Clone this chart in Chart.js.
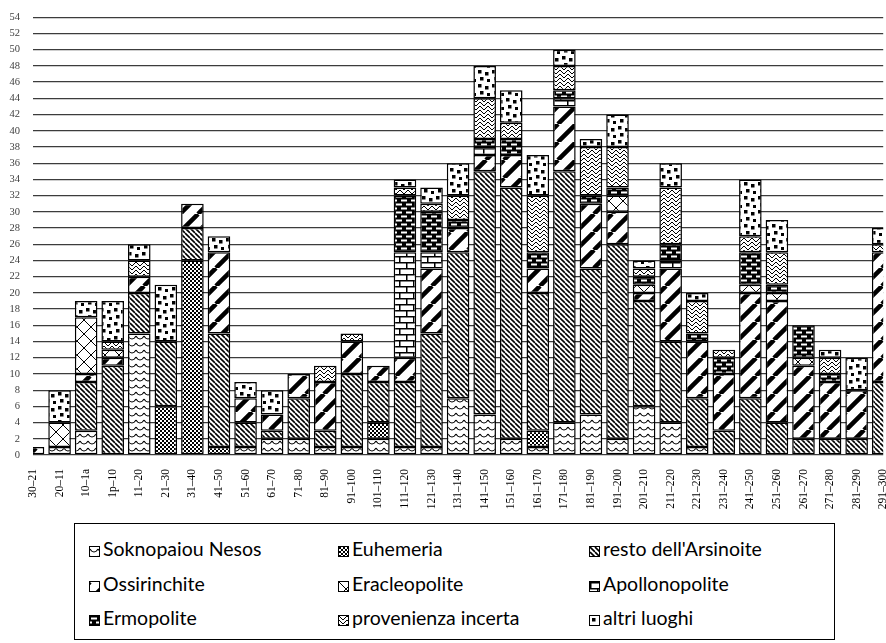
<!DOCTYPE html>
<html>
<head>
<meta charset="utf-8">
<script src="https://cdn.jsdelivr.net/npm/chart.js@4.4.1/dist/chart.umd.min.js"></script>
<style>
html, body { margin:0; padding:0; background:#fff; width:886px; height:643px; overflow:hidden; }
#wrap { position:absolute; left:0; top:-2px; width:903px; height:517px; }
#legend { position:absolute; left:74px; top:523px; width:759px; height:115px; border:1.5px solid #000; font-family:Lato, sans-serif; font-size:19.5px; color:#000; }
.item { position:absolute; height:26px; line-height:26px; white-space:nowrap; }
.sw { display:inline-block; width:9px; height:9px; border:1px solid #000; margin-right:3px; vertical-align:-1px; background-repeat:repeat; }
</style>
</head>
<body>
<div id="wrap"><canvas id="chart" width="903" height="517"></canvas></div>
<div id="legend"></div>
<script>
// periodi (categorie)
var periods = ['30–21', '20–11', '10–1a', '1p–10', '11–20', '21–30', '31–40', '41–50', '51–60', '61–70',
	'71–80', '81–90', '91–100', '101–110', '111–120', '121–130', '131–140', '141–150', '151–160', '161–170',
	'171–180', '181–190', '191–200', '201–210', '211–220', '221–230', '231–240', '241–250', '251–260', '261–270',
	'271–280', '281–290', '291–300'];

var seriesNames = ['Soknopaiou Nesos', 'Euhemeria', "resto dell'Arsinoite", 'Ossirinchite', 'Eracleopolite',
	'Apollonopolite', 'Ermopolite', 'provenienza incerta', 'altri luoghi'];

var soknopaiou = [0,1,3,0,15,0,0,0,1,2, 2,1,1,2,1,1,7,5,2,1, 4,5,2,6,4,1,0,0,0,0, 0,0,0];
var euhemeria  = [0,0,0,0,0,6,24,1,0,0, 0,0,0,2,0,0,0,0,0,2, 0,0,0,0,0,0,0,0,0,0, 0,0,0];
var arsinoite  = [0,0,6,11,5,8,4,14,3,1, 5,2,9,5,8,14,18,30,31,17, 31,18,24,13,10,6,3,7,4,2, 2,2,9];
var ossirinchite = [1,0,1,1,2,0,3,10,3,2, 3,6,4,2,3,8,3,2,4,3, 8,8,4,1,9,7,7,13,15,9, 7,6,16];
var eracleopolite = [0,3,7,1,0,0,0,0,0,0, 0,0,0,0,0,0,0,0,0,0, 0,0,2,1,0,0,0,1,1,1, 0,0,0];
var apollonopolite = [0,0,0,0,0,0,0,0,0,0, 0,0,0,0,13,2,0,1,0,0, 1,0,0,0,1,0,0,0,0,0, 0,0,0];
var ermopolite = [0,0,0,0,0,0,0,0,0,0, 0,0,0,0,7,5,1,1,2,2, 1,1,1,1,2,1,2,4,1,4, 1,0,0];
var incerta    = [0,0,0,1,2,0,0,0,0,0, 0,2,1,0,1,1,3,5,2,7, 3,6,5,1,7,4,1,2,4,0, 2,0,1];
var altri      = [0,4,2,5,2,7,0,2,2,3, 0,0,0,0,1,2,4,4,4,5, 2,1,4,1,3,1,0,7,4,0, 1,4,2];

var yTicks = { min: 0, max: 54, step: 2 };

var ctx = document.getElementById('chart').getContext('2d');

function tile(w, h, draw) {
	var c = document.createElement('canvas');
	c.width = w; c.height = h;
	var g = c.getContext('2d');
	g.fillStyle = '#fff';
	g.fillRect(0, 0, w, h);
	g.fillStyle = '#000';
	g.strokeStyle = '#000';
	draw(g, w, h);
	return c;
}

function diag(g, s, lw, slash) {
	g.lineWidth = lw;
	g.beginPath();
	for (var x0 = -s; x0 <= s; x0 += s) {
		if (slash) { g.moveTo(x0, s); g.lineTo(x0 + s, 0); }
		else { g.moveTo(x0, 0); g.lineTo(x0 + s, s); }
	}
	g.stroke();
}

var tiles = [
	// Soknopaiou Nesos: onde
	tile(8, 7, function(g) {
		g.lineWidth = 1.1;
		g.beginPath(); g.moveTo(0, 2); g.bezierCurveTo(2, 6, 6, 6, 8, 2); g.stroke();
	}),
	// Euhemeria: scacchiera
	tile(4, 4, function(g) { g.fillRect(0, 0, 2, 2); g.fillRect(2, 2, 2, 2); }),
	// resto dell'Arsinoite
	tile(5, 5, function(g, w) { diag(g, w, 1.6, false); }),
	// Ossirinchite
	tile(18, 18, function(g, w) { diag(g, w, 4.5, true); }),
	// Eracleopolite
	tile(14, 14, function(g, w) { diag(g, w, 1, true); diag(g, w, 1, false); }),
	// Apollonopolite: mattoni
	tile(14, 12, function(g) {
		g.fillRect(0, 0, 14, 1.5); g.fillRect(0, 6, 14, 1.5);
		g.fillRect(0, 0, 1.5, 6); g.fillRect(7, 6, 1.5, 6);
	}),
	// Ermopolite: nero con trattini
	tile(10, 8, function(g) {
		g.fillRect(0, 0, 10, 8);
		g.fillStyle = '#fff';
		g.fillRect(1, 1.5, 6, 2); g.fillRect(6, 5.5, 6, 2); g.fillRect(-4, 5.5, 6, 2);
	}),
	// provenienza incerta: spina di pesce
	tile(8, 8, function(g) {
		g.lineWidth = 1;
		g.beginPath();
		g.moveTo(0, 0); g.lineTo(4, 4); g.lineTo(8, 0);
		g.moveTo(0, 4); g.lineTo(4, 8); g.lineTo(8, 4);
		g.stroke();
	}),
	// altri luoghi: puntini
	tile(14, 14, function(g) {
		g.fillRect(2, 2, 3.5, 3.5); g.fillRect(9, 4, 3.5, 3.5);
		g.fillRect(4, 9, 3.5, 3.5); g.fillRect(11, 11, 3.5, 3.5);
	})
];

var allSeries = [soknopaiou, euhemeria, arsinoite, ossirinchite, eracleopolite, apollonopolite, ermopolite, incerta, altri];

var serif = "'Liberation Serif', 'DejaVu Serif', serif";

var datasets = allSeries.map(function(vals, i) {
	return {
		label: seriesNames[i],
		data: vals.map(function(v) { return v === 0 ? null : v; }),
		backgroundColor: ctx.createPattern(tiles[i], 'repeat'),
		borderColor: '#000',
		borderWidth: 1.5,
		borderSkipped: false,
		clip: 0,
		categoryPercentage: 1,
		barPercentage: 0.85
	};
});

var chart = new Chart(ctx, {
	type: 'bar',
	data: { labels: periods, datasets: datasets },
	options: {
		responsive: false,
		animation: false,
		layout: { padding: 0 },
		plugins: { legend: { display: false }, tooltip: { enabled: false } },
		scales: {
			x: {
				stacked: true,
				offset: false,
				grid: { display: false },
				border: { display: false },
				ticks: {
					autoSkip: false, minRotation: 90, maxRotation: 90, padding: 6,
					color: '#000', font: { family: serif, size: 11.5 }
				},
				afterFit: function(s) { s.height = 60; }
			},
			y: {
				stacked: true,
				min: yTicks.min,
				max: yTicks.max,
				ticks: {
					stepSize: yTicks.step, padding: 13,
					color: '#404040', font: { family: serif, size: 10.5 }
				},
				grid: { color: '#3c3c3c', lineWidth: 1.3, drawTicks: false },
				border: { display: false },
				afterFit: function(s) { s.width = 33; }
			}
		}
	}
});

// same steps as the run whose labels came out right
ctx.font = '11.5px ' + serif;
ctx.measureText('291–300');

// legenda
var legendPos = [[14, 12], [263, 12], [514, 12], [14, 47], [263, 47], [514, 47], [14, 81], [263, 81], [514, 81]];
var legend = document.getElementById('legend');
seriesNames.forEach(function(name, i) {
	var d = document.createElement('div');
	d.className = 'item';
	d.style.left = legendPos[i][0] + 'px';
	d.style.top = legendPos[i][1] + 'px';
	var sw = document.createElement('span');
	sw.className = 'sw';
	sw.style.backgroundImage = 'url(' + tiles[i].toDataURL() + ')';
	d.appendChild(sw);
	d.appendChild(document.createTextNode(name));
	legend.appendChild(d);
});
</script>
</body>
</html>
